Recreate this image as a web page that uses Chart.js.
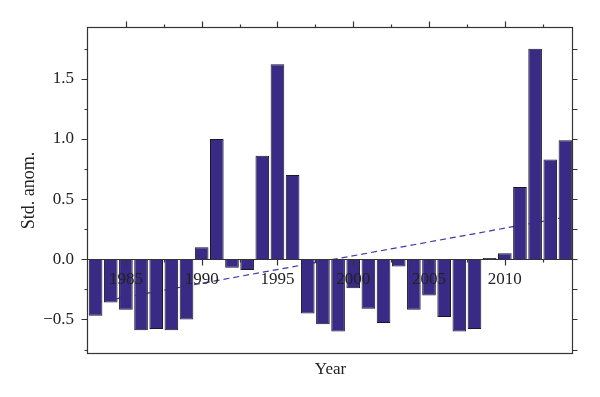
<!DOCTYPE html>
<html><head><meta charset="utf-8">
<script src="https://cdn.jsdelivr.net/npm/chart.js@4"></script>
<style>html,body{margin:0;padding:0;background:#fff;}</style>
</head><body>
<canvas id="c" width="600" height="397"></canvas>
<script>
const years = [1983,1984,1985,1986,1987,1988,1989,1990,1991,1992,1993,1994,1995,1996,1997,1998,1999,2000,2001,2002,2003,2004,2005,2006,2007,2008,2009,2010,2011,2012,2013,2014];
const anomalies = [-0.47,-0.36,-0.42,-0.59,-0.58,-0.59,-0.50,0.10,1.00,-0.07,-0.09,0.86,1.62,0.70,-0.45,-0.54,-0.60,-0.24,-0.41,-0.53,-0.06,-0.42,-0.30,-0.48,-0.60,-0.58,0.01,0.05,0.60,1.75,0.83,0.99];
const trendYears = [1983, 2014];
const trendValues = [-0.36, 0.35];
const xLabelYears = [1985,1990,1995,2000,2005,2010];
const xMinorYears = [1987.5,1992.5,1997.5,2002.5,2007.5,2012.5];
const yTickValues = [-0.5,0,0.5,1.0,1.5];
const yMinorValues = [-0.75,-0.25,0.25,0.75,1.25,1.75];

const X_MIN = 1982.5, X_MAX = 2014.5, Y_MIN = -0.787, Y_MAX = 1.93;
const FONT = "'Liberation Serif', 'Times New Roman', serif";
const INK = '#222222';

const framePlugin = {
  id: 'frame',
  afterDatasetsDraw(chart) {
    const {ctx, chartArea: a, scales: {x, y}} = chart;
    ctx.save();
    ctx.strokeStyle = '#333';
    ctx.lineWidth = 1.2;
    const L = Math.round(a.left) - 0.5, R = Math.round(a.right) - 0.5;
    const T = Math.round(a.top) + 0.5, B = Math.round(a.bottom) - 0.5;
    const Z = Math.round(y.getPixelForValue(0)) + 0.5;
    ctx.beginPath();
    ctx.moveTo(L, Z); ctx.lineTo(R, Z);
    const yt = (v, len) => {
      const p = Math.round(y.getPixelForValue(v)) + 0.5;
      ctx.moveTo(L - len, p); ctx.lineTo(L, p);
      ctx.moveTo(R, p); ctx.lineTo(R + 5, p);
    };
    yTickValues.forEach(v => yt(v, 6));
    yMinorValues.forEach(v => yt(v, 3));
    const xt = (v, len) => {
      const p = Math.round(x.getPixelForValue(v)) + 0.5;
      ctx.moveTo(p, T - len); ctx.lineTo(p, T);
      ctx.moveTo(p, Z); ctx.lineTo(p, Z + len);
    };
    xLabelYears.forEach(v => xt(v, 6));
    xMinorYears.forEach(v => xt(v, 3));
    ctx.stroke();
    ctx.strokeRect(L, T, R - L, B - T);
    ctx.restore();
  }
};

new Chart(document.getElementById('c'), {
  data: {
    datasets: [
      {
        type: 'bar',
        data: years.map((yr, i) => ({x: yr, y: anomalies[i]})),
        backgroundColor: '#392b85',
        borderColor: '#1a1828',
        borderWidth: 1,
        categoryPercentage: 1.0,
        barPercentage: 0.9,
        order: 1
      },
      {
        type: 'line',
        data: trendYears.map((yr, i) => ({x: yr, y: trendValues[i]})),
        borderColor: '#3b3aa6',
        borderWidth: 1.2,
        borderDash: [6, 4],
        pointRadius: 0,
        fill: false,
        order: 2
      }
    ]
  },
  options: {
    responsive: false,
    devicePixelRatio: 1,
    animation: false,
    layout: {padding: {top: 27, right: 27, left: 0, bottom: 0}},
    plugins: {legend: {display: false}, tooltip: {enabled: false}},
    scales: {
      x: {
        type: 'linear',
        position: {y: 0},
        min: X_MIN, max: X_MAX,
        offset: false,
        grid: {display: false, drawTicks: false},
        border: {display: false},
        afterBuildTicks: s => { s.ticks = xLabelYears.map(v => ({value: v})); },
        ticks: {
          z: 1,
          autoSkip: false,
          maxRotation: 0,
          padding: 10,
          color: INK,
          font: {family: FONT, size: 17},
          callback: v => String(v)
        }
      },
      xb: {
        type: 'linear',
        position: 'bottom',
        min: X_MIN, max: X_MAX,
        offset: false,
        grid: {display: false, drawTicks: false},
        border: {display: false},
        ticks: {display: false},
        title: {display: true, text: 'Year', color: INK, font: {family: FONT, size: 17}, padding: {top: 0, bottom: 17}},
        afterFit: s => { s.height = 43; }
      },
      y: {
        type: 'linear',
        position: 'left',
        min: Y_MIN, max: Y_MAX,
        grid: {display: false, drawTicks: false},
        border: {display: false},
        afterBuildTicks: s => { s.ticks = yTickValues.map(v => ({value: v})); },
        ticks: {
          autoSkip: false,
          padding: 14,
          color: INK,
          font: {family: FONT, size: 17},
          callback: v => (v < 0 ? '\u2212' : '') + Math.abs(v).toFixed(1)
        },
        title: {display: true, text: 'Std. anom.', color: INK, font: {family: FONT, size: 18}, padding: {top: 18, bottom: 0}},
        afterFit: s => { s.width = 88; }
      }
    }
  },
  plugins: [framePlugin]
});
</script>
</body></html>
